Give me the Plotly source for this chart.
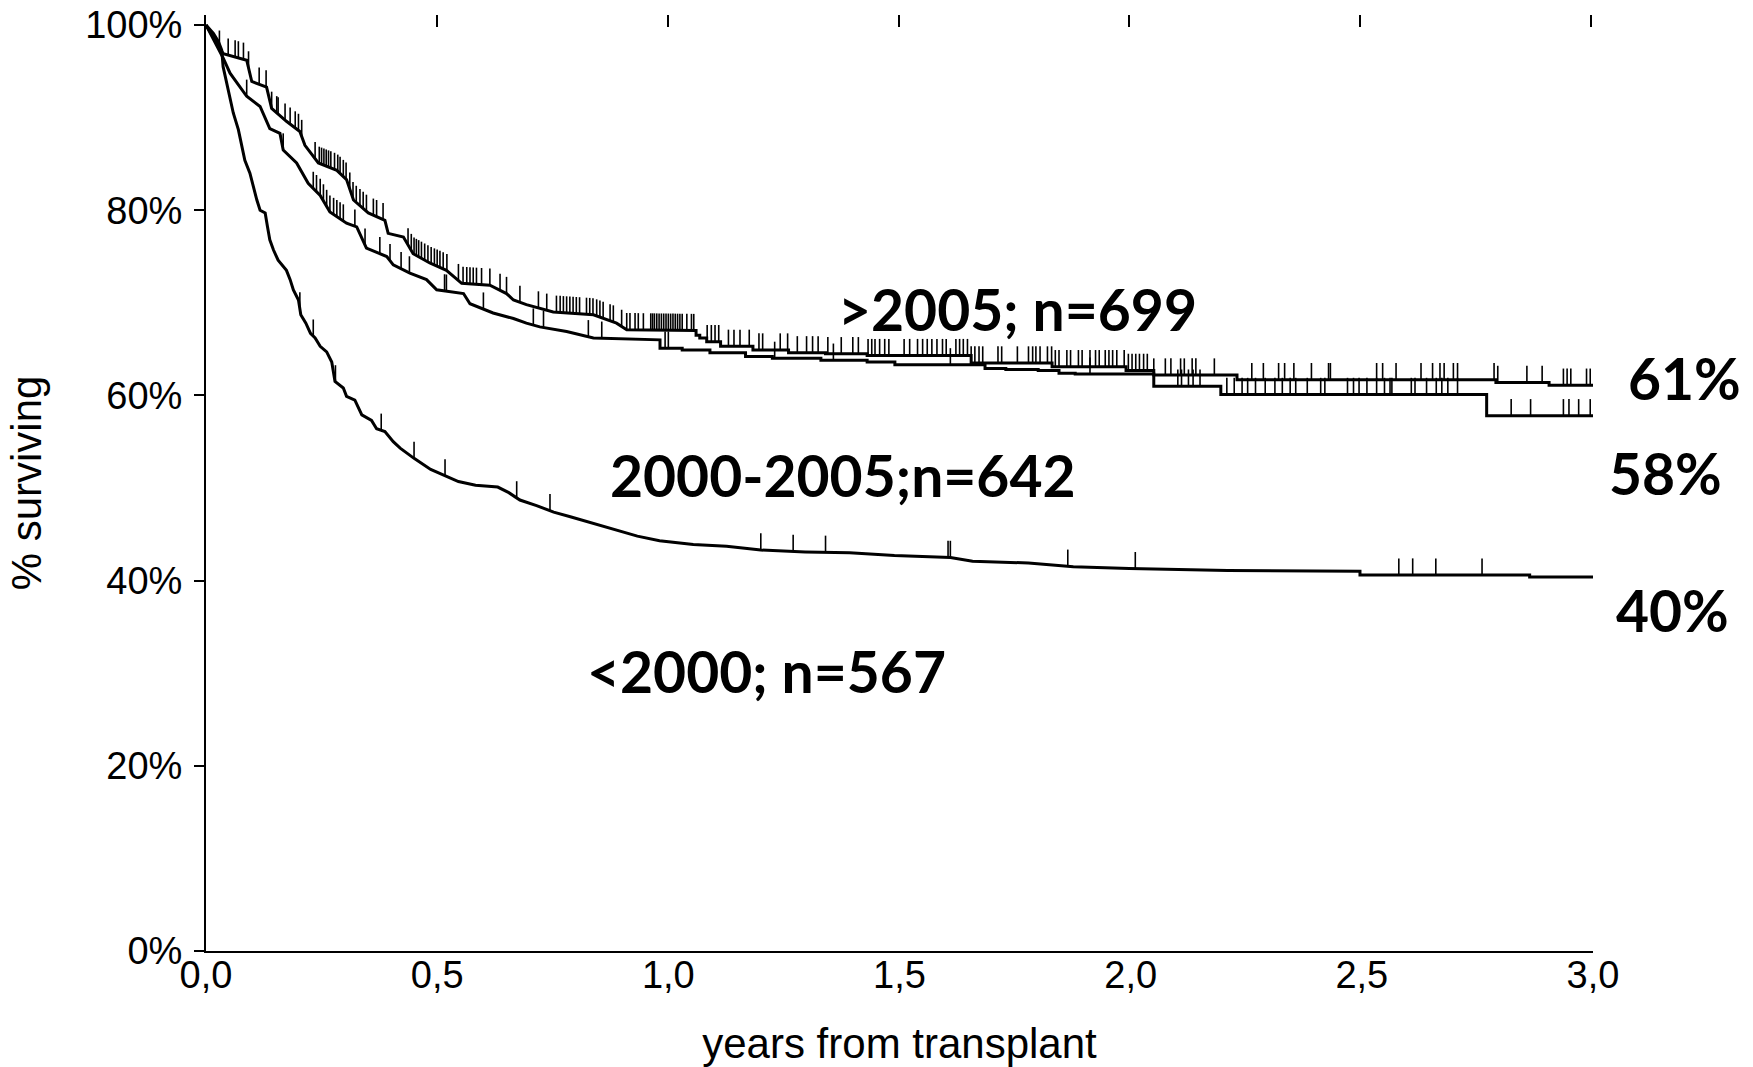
import numpy as np
import plotly.graph_objects as go

# ---------------- data ----------------
x_tick_vals = [0.0, 0.5, 1.0, 1.5, 2.0, 2.5, 3.0]
x_tick_text = ["0,0", "0,5", "1,0", "1,5", "2,0", "2,5", "3,0"]
y_tick_vals = [0, 20, 40, 60, 80, 100]
y_tick_text = ["0%", "20%", "40%", "60%", "80%", "100%"]

# >2005; n=699
t_gt2005 = [0, 0.0375, 0.088, 0.099, 0.131, 0.142, 0.174, 0.203, 0.214, 0.243, 0.283, 0.304,
            0.319, 0.351, 0.387, 0.394, 0.427, 0.448, 0.484, 0.520, 0.553, 0.614, 0.650, 0.665,
            0.693, 0.751, 0.838, 0.888, 0.910,
            1.060, 1.060, 1.068, 1.068, 1.083, 1.083, 1.113, 1.113, 1.183, 1.183, 1.26, 1.26,
            1.34, 1.34, 1.43, 1.43, 1.655, 1.655, 1.83, 1.83, 1.99, 1.99, 2.05, 2.05,
            2.23, 2.23, 2.79, 2.79, 2.905, 2.905, 3.0]
s_gt2005 = [100, 96.9, 96.2, 93.9, 93.3, 91.0, 89.6, 88.5, 87.0, 85.1, 84.3, 83.3,
            81.1, 79.7, 78.9, 77.5, 77.1, 75.3, 74.3, 73.5, 72.1, 71.9, 71.0, 70.3,
            69.8, 69.0, 68.7, 67.8, 67.1,
            67.0, 66.5, 66.5, 66.2, 66.2, 65.8, 65.8, 65.3, 65.3, 64.9, 64.9, 64.6,
            64.6, 64.5, 64.5, 64.3, 64.3, 63.5, 63.5, 63.1, 63.1, 62.7, 62.7, 62.2,
            62.2, 61.7, 61.7, 61.4, 61.4, 61.1, 61.1]
c_gt2005 = [0.029, 0.048, 0.063, 0.070, 0.081, 0.092, 0.115, 0.130, 0.142, 0.153, 0.156, 0.171,
            0.182, 0.193, 0.200, 0.207, 0.236, 0.245, 0.250, 0.255, 0.260, 0.265, 0.270, 0.278,
            0.285, 0.290, 0.297, 0.303, 0.311, 0.318, 0.325, 0.333, 0.340, 0.347, 0.362, 0.369,
            0.383, 0.437, 0.444, 0.450, 0.455, 0.460, 0.466, 0.473, 0.480, 0.487, 0.494, 0.500,
            0.506, 0.513, 0.521, 0.546, 0.556, 0.564, 0.571, 0.578, 0.585, 0.596, 0.614, 0.636,
            0.650, 0.679, 0.719, 0.737, 0.758, 0.766, 0.773, 0.780, 0.787, 0.794, 0.801, 0.808,
            0.823, 0.830, 0.837, 0.845, 0.852, 0.859, 0.874, 0.881, 0.899, 0.910, 0.917, 0.928,
            0.935, 0.946, 0.962, 0.966, 0.970, 0.975, 0.980, 0.985, 0.990, 0.995, 1.000, 1.005,
            1.010, 1.015, 1.020, 1.025, 1.030, 1.040, 1.050, 1.055, 1.084, 1.093, 1.101, 1.109,
            1.130, 1.142, 1.155, 1.175, 1.196, 1.204, 1.242, 1.258, 1.279, 1.299, 1.312, 1.324,
            1.345, 1.374, 1.399, 1.411, 1.432, 1.440, 1.447, 1.457, 1.468, 1.477, 1.510, 1.522,
            1.539, 1.550, 1.560, 1.570, 1.581, 1.593, 1.601, 1.622, 1.630, 1.638, 1.647, 1.655,
            1.663, 1.672, 1.680, 1.713, 1.721, 1.755, 1.779, 1.788, 1.795, 1.804, 1.820, 1.829,
            1.837, 1.845, 1.862, 1.870, 1.887, 1.895, 1.912, 1.924, 1.932, 1.945, 1.953, 1.961,
            1.970, 1.986, 1.995, 2.003, 2.011, 2.019, 2.028, 2.036, 2.050, 2.075, 2.087, 2.108,
            2.116, 2.133, 2.141, 2.181, 2.262, 2.287, 2.320, 2.333, 2.353, 2.391, 2.428, 2.432,
            2.532, 2.545, 2.574, 2.628, 2.653, 2.669, 2.678, 2.698, 2.707, 2.786, 2.794, 2.857,
            2.890, 2.936, 2.944, 2.952, 2.986, 2.994]

# 2000-2005; n=642
t_2000_2005 = [0, 0.0375, 0.052, 0.088, 0.117, 0.138, 0.160, 0.167, 0.196, 0.221, 0.247, 0.268,
               0.304, 0.326, 0.347, 0.391, 0.405, 0.441, 0.477, 0.499, 0.557, 0.571, 0.621, 0.665,
               0.693, 0.722, 0.780, 0.838, 0.982, 0.982,
               1.03, 1.03, 1.09, 1.09, 1.167, 1.167, 1.225, 1.225, 1.33, 1.33, 1.43, 1.43,
               1.49, 1.49, 1.685, 1.685, 1.73, 1.73, 1.80, 1.80, 1.845, 1.845, 1.88, 1.88,
               2.05, 2.05, 2.195, 2.195, 2.77, 2.77, 3.0]
s_2000_2005 = [100, 96.4, 94.8, 92.3, 91.2, 88.8, 88.3, 86.5, 85.1, 82.9, 81.6, 79.8,
               78.6, 78.2, 75.9, 75.0, 74.1, 73.2, 72.5, 71.4, 71.0, 69.9, 68.9, 68.3,
               67.8, 67.4, 66.9, 66.2, 66.0, 65.1,
               65.1, 64.9, 64.9, 64.6, 64.6, 64.2, 64.2, 64.0, 64.0, 63.8, 63.8, 63.6,
               63.6, 63.3, 63.3, 62.9, 62.9, 62.8, 62.8, 62.7, 62.7, 62.4, 62.4, 62.3,
               62.3, 61.0, 61.0, 60.1, 60.1, 57.8, 57.8]
c_2000_2005 = [0.088, 0.167, 0.232, 0.239, 0.247, 0.254, 0.261, 0.268, 0.276, 0.283, 0.290, 0.297,
               0.322, 0.344, 0.376, 0.398, 0.422, 0.440, 0.516, 0.520, 0.600, 0.708, 0.730, 0.827,
               0.856, 0.993, 1.000, 1.230, 1.357, 1.610, 1.912, 2.102, 2.110, 2.125, 2.135, 2.150,
               2.208, 2.224, 2.241, 2.253, 2.270, 2.291, 2.312, 2.328, 2.345, 2.357, 2.382, 2.411,
               2.420, 2.469, 2.482, 2.494, 2.511, 2.532, 2.549, 2.561, 2.565, 2.607, 2.615, 2.640,
               2.661, 2.673, 2.686, 2.707, 2.823, 2.865, 2.936, 2.948, 2.969, 2.994]

# <2000; n=567
t_lt2000 = [0, 0.016, 0.027, 0.034, 0.037, 0.045, 0.052, 0.059, 0.070, 0.077, 0.084, 0.095,
            0.102, 0.110, 0.117, 0.128, 0.133, 0.138, 0.146, 0.156, 0.174, 0.182, 0.189, 0.200,
            0.205, 0.216, 0.226, 0.236, 0.247, 0.261, 0.272, 0.279, 0.297, 0.304, 0.322, 0.337,
            0.358, 0.369, 0.387, 0.405, 0.420, 0.450, 0.486, 0.522, 0.546, 0.583, 0.631, 0.655,
            0.679, 0.715, 0.752, 0.788, 0.836, 0.885, 0.933, 0.981, 1.054, 1.126, 1.200, 1.296,
            1.392, 1.489, 1.610, 1.658, 1.779, 1.876, 1.997, 2.210,
            2.496, 2.496, 2.863, 2.863, 3.0]
s_lt2000 = [100, 99.1, 98.2, 97.3, 95.5, 93.7, 91.9, 90.5, 88.7, 86.9, 85.4, 84.0,
            82.5, 81.1, 80.0, 79.7, 78.2, 76.8, 75.7, 74.6, 73.5, 72.5, 71.4, 70.3,
            68.7, 67.8, 66.7, 66.2, 65.3, 64.7, 63.6, 61.5, 60.8, 59.9, 59.5, 57.9,
            57.3, 56.4, 56.1, 55.0, 54.3, 53.2, 52.0, 51.2, 50.7, 50.3, 50.1, 49.5,
            48.7, 48.1, 47.4, 46.9, 46.2, 45.5, 44.8, 44.3, 43.9, 43.7, 43.3, 43.1,
            43.0, 42.7, 42.5, 42.1, 41.9, 41.5, 41.3, 41.1,
            41.0, 40.6, 40.6, 40.4, 40.4]
c_lt2000 = [0.203, 0.232, 0.280, 0.379, 0.450, 0.517, 0.672, 0.744, 1.200, 1.270, 1.340,
            1.605, 1.610, 1.864, 2.010, 2.580, 2.610, 2.660, 2.760]

groups = [
    (">2005; n=699", t_gt2005, s_gt2005, c_gt2005),
    ("2000-2005;n=642", t_2000_2005, s_2000_2005, c_2000_2005),
    ("<2000; n=567", t_lt2000, s_lt2000, c_lt2000),
]

# ---------------- figure ----------------
fig = go.Figure()
TICK_H = 1.8

for name, t, s, c in groups:
    fig.add_trace(go.Scatter(x=t, y=s, mode="lines", name=name,
                             line=dict(color="black", width=3), showlegend=False,
                             hoverinfo="skip"))
    c_arr = np.array(c)
    cy = np.interp(c_arr, np.array(t), np.array(s))
    fig.add_trace(go.Scatter(x=c_arr, y=cy, mode="markers", showlegend=False,
                             marker=dict(size=1, color="rgba(0,0,0,0)"),
                             error_y=dict(type="data", symmetric=False,
                                          array=[TICK_H] * len(c_arr),
                                          arrayminus=[0] * len(c_arr),
                                          width=0, thickness=1.6, color="black"),
                             hoverinfo="skip"))

# invisible trace to activate the top axis that carries the tick marks
fig.add_trace(go.Scatter(x=[0, 3], y=[0, 0], xaxis="x2", mode="markers",
                         marker=dict(size=1, color="rgba(0,0,0,0)"), showlegend=False,
                         hoverinfo="skip"))

tick_font = dict(family="Liberation Sans, Arial, sans-serif", size=38, color="black")
title_font = dict(family="Liberation Sans, Arial, sans-serif", size=42, color="black")
label_font = dict(family="Lato, Open Sans, sans-serif", size=57, color="black", weight=700)

fig.update_layout(
    template="none",
    width=1753, height=1067,
    margin=dict(l=206, r=160, t=15, b=116, autoexpand=False),
    paper_bgcolor="white", plot_bgcolor="white",
    xaxis=dict(range=[0, 3], tickvals=x_tick_vals, ticktext=x_tick_text,
               showline=True, linecolor="black", linewidth=2, ticks="", ticklen=0,
               showgrid=False, zeroline=False, tickfont=tick_font, automargin=False,
               ticklabelstandoff=-11,
               title=dict(text="years from transplant", font=title_font, standoff=35)),
    xaxis2=dict(range=[0, 3.004], overlaying="x", side="top", anchor="y",
                tickvals=x_tick_vals[1:], ticks="inside", ticklen=12, tickwidth=2,
                tickcolor="black", showline=False, showgrid=False, zeroline=False,
                showticklabels=False, automargin=False),
    yaxis=dict(range=[0, 101.08], tickvals=y_tick_vals, ticktext=y_tick_text,
               showline=True, linecolor="black", linewidth=2, ticks="outside",
               ticklen=10, tickwidth=2, tickcolor="black", automargin=False,
               showgrid=False, zeroline=False, tickfont=tick_font, ticklabelstandoff=4,
               title=dict(text="% surviving", font=title_font, standoff=30)),
)

# labels: curve names (data coordinates) and 3-year survival values (right margin)
curve_labels = [
    (">2005; n=699", 1.755, 69.3),
    ("2000-2005;n=642", 1.377, 51.4),
    ("<2000; n=567", 1.213, 30.2),
]
for text, ax, ay in curve_labels:
    fig.add_annotation(x=ax, y=ay, xref="x", yref="y", text=text, showarrow=False,
                       xanchor="center", yanchor="middle", font=label_font)

end_labels = [("61%", 1.0663, 0.6122), ("58%", 1.0526, 0.5107), ("40%", 1.0573, 0.3643)]
for text, px, py in end_labels:
    fig.add_annotation(x=px, y=py, xref="paper", yref="paper", text=text, showarrow=False,
                       xanchor="center", yanchor="middle", font=label_font)

fig.write_html("out.html")
